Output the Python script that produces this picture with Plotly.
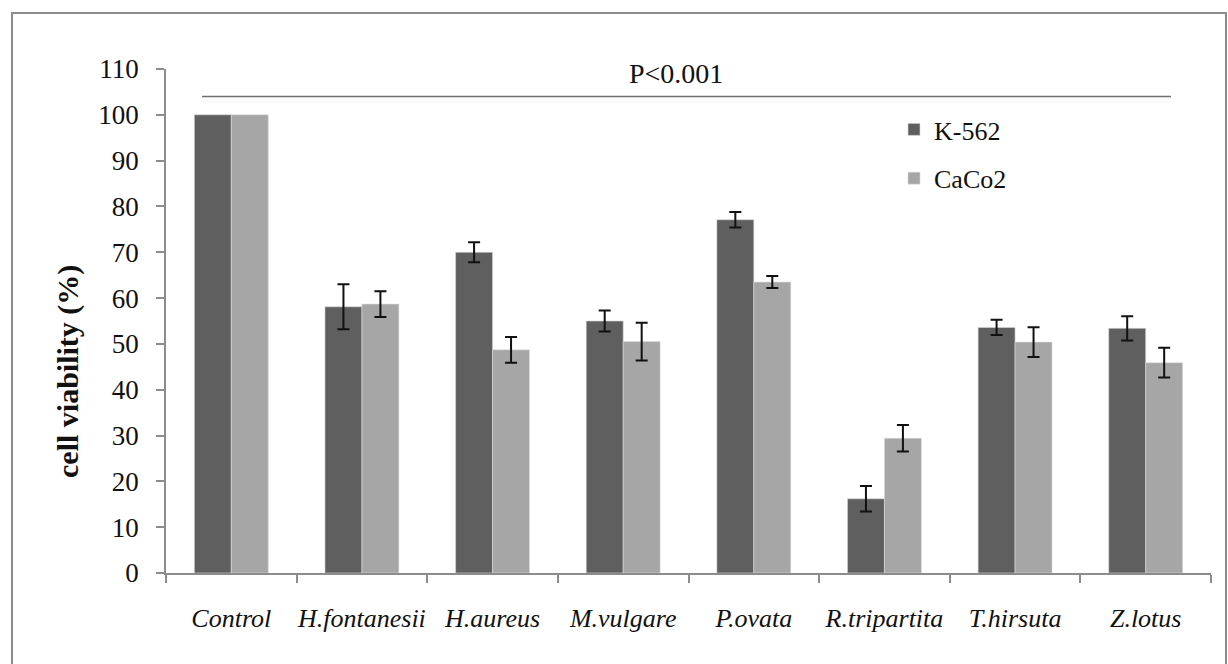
import plotly.graph_objects as go

categories = ["Control", "H.fontanesii", "H.aureus", "M.vulgare",
              "P.ovata", "R.tripartita", "T.hirsuta", "Z.lotus"]
k562_values = [100, 58.1, 70.0, 55.0, 77.1, 16.2, 53.6, 53.4]
k562_errors = [None, 4.9, 2.2, 2.3, 1.7, 2.8, 1.65, 2.65]
caco2_values = [100, 58.7, 48.7, 50.5, 63.5, 29.4, 50.4, 45.9]
caco2_errors = [None, 2.8, 2.8, 4.1, 1.3, 2.9, 3.25, 3.25]
y_ticks = list(range(0, 111, 10))
p_label = "P<0.001"
p_level = 104

serif = "Liberation Serif"
axis_grey = "#8c8c8c"


def add_series(name, values, errors, color, edge, group):
    # points without an error estimate are drawn as plain bars in the same slot
    with_err = [i for i, e in enumerate(errors) if e is not None]
    no_err = [i for i, e in enumerate(errors) if e is None]
    fig.add_trace(go.Bar(
        name=name, x=[categories[i] for i in with_err],
        y=[values[i] for i in with_err],
        marker=dict(color=color, line=dict(color=edge, width=0.6)),
        error_y=dict(type="data", array=[errors[i] for i in with_err],
                     visible=True, color="#111111", thickness=2, width=6),
        offsetgroup=group, legendgroup=group,
    ))
    fig.add_trace(go.Bar(
        name=name, x=[categories[i] for i in no_err],
        y=[values[i] for i in no_err],
        marker=dict(color=color, line=dict(color=edge, width=0.6)),
        offsetgroup=group, legendgroup=group, showlegend=False,
    ))


fig = go.Figure()
add_series("K-562", k562_values, k562_errors, "#5f5f5f", "#d8d8d8", "k")
add_series("CaCo2", caco2_values, caco2_errors, "#a6a6a6", "#dcdcdc", "c")

# significance bar with soft shadow
fig.add_shape(type="line", xref="paper", yref="y", x0=0.0345, x1=0.9617,
              y0=p_level - 0.8, y1=p_level - 0.8,
              line=dict(color="rgba(0,0,0,0.02)", width=6), layer="below")
fig.add_shape(type="line", xref="paper", yref="y", x0=0.0345, x1=0.9617,
              y0=p_level, y1=p_level,
              line=dict(color="#6e6e6e", width=1.6))
fig.add_annotation(text=p_label, xref="paper", yref="y",
                   x=(676 - 166) / 1045, y=p_level + 1.3,
                   xanchor="center", yanchor="bottom", showarrow=False,
                   font=dict(family=serif, size=28, color="#111111"))

# outer frame
fig.add_shape(type="rect", xref="paper", yref="paper",
              x0=(12 - 166) / 1045, x1=(1226 - 166) / 1045,
              y0=-0.4, y1=(573 - 13) / 504,
              line=dict(color=axis_grey, width=2), fillcolor="rgba(0,0,0,0)")

# y-axis title
fig.add_annotation(text="<b>cell viability (%)</b>", xref="paper", yref="paper",
                   x=(68 - 166) / 1045, y=(573 - 372) / 504,
                   xanchor="center", yanchor="middle",
                   textangle=-90, showarrow=False,
                   font=dict(family=serif, size=30, color="#111111"))

fig.update_layout(
    width=1228, height=664,
    margin=dict(l=166, r=17, t=69, b=91),
    paper_bgcolor="white", plot_bgcolor="white",
    barmode="group", bargap=0.434, bargroupgap=0,
    showlegend=True,
    legend=dict(x=(894 - 166) / 1045, y=(573 - 106) / 504,
                xanchor="left", yanchor="top",
                font=dict(family="Liberation Serif", size=26, color="#111111"),
                traceorder="grouped", tracegroupgap=12,
                bgcolor="rgba(0,0,0,0)", itemwidth=30),
    xaxis=dict(
        type="category", categoryorder="array", categoryarray=categories,
        showline=True, linecolor=axis_grey, linewidth=1.5,
        ticks="outside", tickson="boundaries", ticklen=8, tickcolor=axis_grey,
        tickwidth=1.5, showgrid=False, ticklabelstandoff=21,
        tickangle=0, automargin=False,
        tickfont=dict(family=serif, size=26, color="#111111"),
        tickvals=categories, ticktext=["<i>%s</i>" % c for c in categories],
    ),
    yaxis=dict(
        range=[0, 110], tickvals=y_ticks, showline=True, linecolor=axis_grey,
        linewidth=1.5, ticks="outside", ticklen=8, tickcolor=axis_grey,
        tickwidth=1.5, showgrid=False, zeroline=False, ticklabelstandoff=12,
        automargin=False,
        tickfont=dict(family=serif, size=27, color="#111111"),
    ),
)

fig.write_html("out.html")
